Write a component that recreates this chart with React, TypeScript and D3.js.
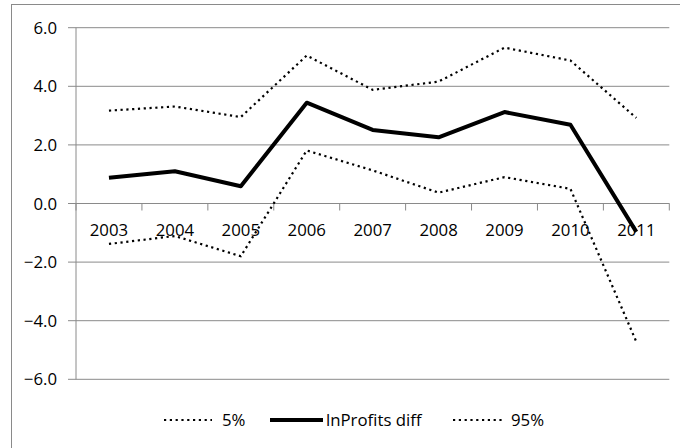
import React from "react";
import * as d3 from "d3";

const years = ["2003", "2004", "2005", "2006", "2007", "2008", "2009", "2010", "2011"];
const p5 = [-1.38, -1.11, -1.8, 1.81, 1.13, 0.37, 0.9, 0.5, -4.72];
const lnProfitsDiff = [0.88, 1.1, 0.59, 3.44, 2.51, 2.26, 3.12, 2.69, -0.97];
const p95 = [3.17, 3.31, 2.95, 5.05, 3.88, 4.16, 5.32, 4.88, 2.92];
const yTicks = [-6, -4, -2, 0, 2, 4, 6];
const legendItems = [
  { label: "5%", dotted: true },
  { label: "lnProfits diff", dotted: false },
  { label: "95%", dotted: true },
];

const W = 680;
const H = 448;
const FONT = "'Open Sans', 'Noto Sans', sans-serif";
const GRID = "#8a8a8a";
const FS = 16.8;

export default function App() {
  const left = 76;
  const right = 669.3;
  const top = 27.7;
  const bottom = 379.3;

  const x = d3.scaleBand<string>().domain(years).range([left, right]).padding(0);
  const y = d3.scaleLinear().domain([-6, 6]).range([bottom, top]);
  const cx = (i: number) => (x(years[i]) as number) + x.bandwidth() / 2;
  const line = d3
    .line<number>()
    .x((_, i) => cx(i))
    .y((d) => y(d));

  const boundaries = d3.range(years.length + 1).map((i) => left + i * x.bandwidth());
  const zeroY = y(0);

  const legendY = 420;
  const legendPos = [
    { x0: 164, x1: 212, tx: 222 },
    { x0: 270, x1: 323, tx: 326 },
    { x0: 453, x1: 505, tx: 511 },
  ];

  return (
    <svg
      width={W}
      height={H}
      style={{ position: "absolute", left: 0, top: 0, background: "#fff" }}
      fontFamily={FONT}
    >
      <rect x={0} y={0} width={W} height={H} fill="#fff" />
      {/* outer border (right and bottom off-canvas) */}
      <rect x={11.5} y={4.5} width={W + 10} height={H + 10} fill="none" stroke={GRID} strokeWidth={1} />

      {/* gridlines */}
      {yTicks.map((t) => (
        <line key={"g" + t} x1={left - 8} x2={right} y1={y(t)} y2={y(t)} stroke={GRID} strokeWidth={1} />
      ))}
      {/* y axis */}
      <line x1={left} x2={left} y1={top} y2={bottom} stroke={GRID} strokeWidth={1} />
      {yTicks.map((t) => (
        <text key={"yt" + t} x={57} y={y(t) + 6} textAnchor="end" fontSize={FS} fill="#000">
          {d3.format(".1f")(t)}
        </text>
      ))}
      {/* x axis at zero */}
      <line x1={left} x2={right} y1={zeroY} y2={zeroY} stroke={GRID} strokeWidth={1} />
      {boundaries.map((bx, i) => (
        <line key={"xt" + i} x1={bx} x2={bx} y1={zeroY} y2={zeroY + 7} stroke={GRID} strokeWidth={1} />
      ))}
      {years.map((yr, i) => (
        <text key={"xl" + yr} x={cx(i)} y={236} textAnchor="middle" fontSize={FS} fill="#000">
          {yr}
        </text>
      ))}

      {/* series */}
      <path d={line(p95) || ""} fill="none" stroke="#000" strokeWidth={2.2} strokeDasharray="2.2 3.6" />
      <path d={line(p5) || ""} fill="none" stroke="#000" strokeWidth={2.2} strokeDasharray="2.2 3.6" />
      <path d={line(lnProfitsDiff) || ""} fill="none" stroke="#000" strokeWidth={4} strokeLinejoin="round" />

      {/* legend */}
      {legendItems.map((it, i) => (
        <g key={"lg" + i}>
          <line
            x1={legendPos[i].x0}
            x2={legendPos[i].x1}
            y1={legendY}
            y2={legendY}
            stroke="#000"
            strokeWidth={it.dotted ? 2.2 : 4}
            strokeDasharray={it.dotted ? "2.2 3.6" : undefined}
          />
          <text x={legendPos[i].tx} y={legendY + 6} fontSize={FS} fill="#000">
            {it.label}
          </text>
        </g>
      ))}
    </svg>
  );
}
